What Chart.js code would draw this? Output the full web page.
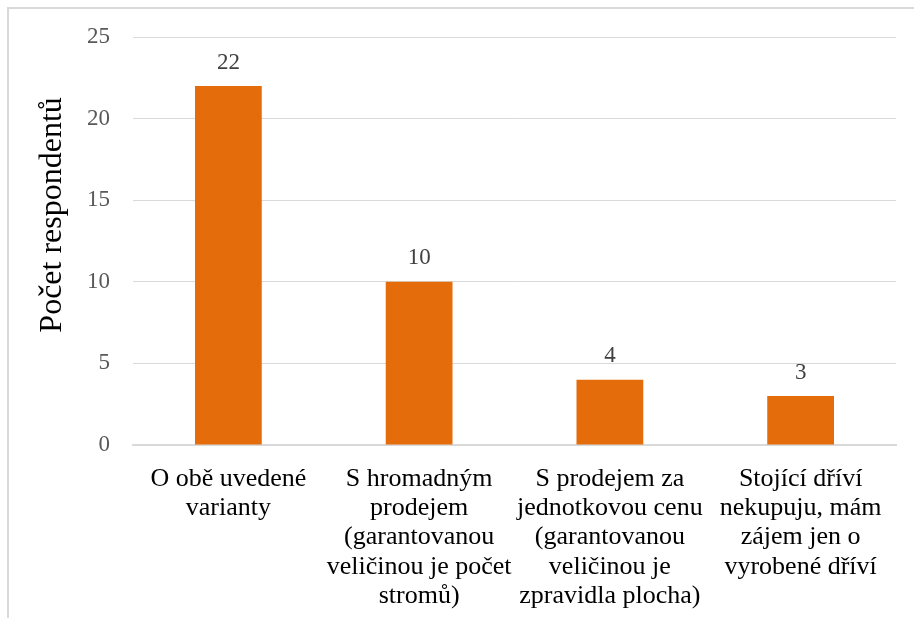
<!DOCTYPE html>
<html><head><meta charset="utf-8">
<script src="https://cdn.jsdelivr.net/npm/chart.js@4"></script>
<style>
html,body{margin:0;padding:0;background:#fff;overflow:hidden;}
#frame{position:absolute;left:7px;top:7px;width:930px;height:640px;border:2px solid #d9d9d9;box-sizing:border-box;}
#wrap{position:absolute;left:0;top:0;width:914px;height:618px;}
</style></head>
<body>
<div id="frame"></div>
<div id="wrap"><canvas id="c" width="914" height="618"></canvas></div>
<script>
const categories = [
  ["O obě uvedené", "varianty"],
  ["S hromadným", "prodejem", "(garantovanou", "veličinou je počet", "stromů)"],
  ["S prodejem za", "jednotkovou cenu", "(garantovanou", "veličinou je", "zpravidla plocha)"],
  ["Stojící dříví", "nekupuju, mám", "zájem jen o", "vyrobené dříví"]
];
const values = [22, 10, 4, 3];
const yTicks = [0, 5, 10, 15, 20, 25];
const yTitle = "Počet respondentů";

const labelPlugin = {
  id: 'valLabels',
  afterDatasetsDraw(chart) {
    const ctx = chart.ctx;
    const meta = chart.getDatasetMeta(0);
    ctx.save();
    ctx.font = '23px "Liberation Serif", serif';
    ctx.fillStyle = '#404040';
    ctx.textAlign = 'center';
    ctx.textBaseline = 'bottom';
    meta.data.forEach((bar, i) => {
      ctx.fillText(String(values[i]), bar.x, bar.y - 12);
    });
    ctx.restore();
  }
};

const titlePlugin = {
  id: 'yTitle',
  afterDraw(chart) {
    const ctx = chart.ctx;
    const ys = chart.scales.y;
    ctx.save();
    ctx.translate(53, ys.getPixelForValue(14.1));
    ctx.rotate(-Math.PI / 2);
    ctx.font = '32px "Liberation Serif", serif';
    ctx.fillStyle = '#000';
    ctx.textAlign = 'center';
    ctx.textBaseline = 'middle';
    ctx.fillText(yTitle, 0, 0);
    ctx.restore();
  }
};

new Chart(document.getElementById('c'), {
  type: 'bar',
  data: {
    labels: categories,
    datasets: [{
      data: values,
      backgroundColor: '#E46C0A',
      borderWidth: 0,
      barPercentage: 0.35,
      categoryPercentage: 1
    }]
  },
  plugins: [labelPlugin, titlePlugin],
  options: {
    responsive: false,
    animation: false,
    devicePixelRatio: 1,
    layout: { padding: { left: 0, top: 37, right: 18, bottom: 0 } },
    plugins: { legend: { display: false }, tooltip: { enabled: false } },
    scales: {
      x: {
        grid: { display: false, drawTicks: false },
        border: { display: true, color: '#d9d9d9', width: 2 },
        ticks: {
          color: '#000',
          font: { family: '"Liberation Serif", serif', size: 26, lineHeight: 1.13 },
          padding: 19,
          maxRotation: 0,
          autoSkip: false
        },
        afterFit(scale) { scale.height = 173; }
      },
      y: {
        min: 0, max: 25,
        afterBuildTicks(scale) { scale.ticks = yTicks.map(v => ({ value: v })); },
        grid: { color: '#d9d9d9', lineWidth: 1, drawTicks: false },
        border: { display: false },
        ticks: {
          color: '#595959',
          font: { family: '"Liberation Serif", serif', size: 23 },
          padding: 23
        },
        title: { display: false, text: yTitle },
        afterFit(scale) { scale.width = 133; }
      }
    }
  }
});
</script>
</body></html>
